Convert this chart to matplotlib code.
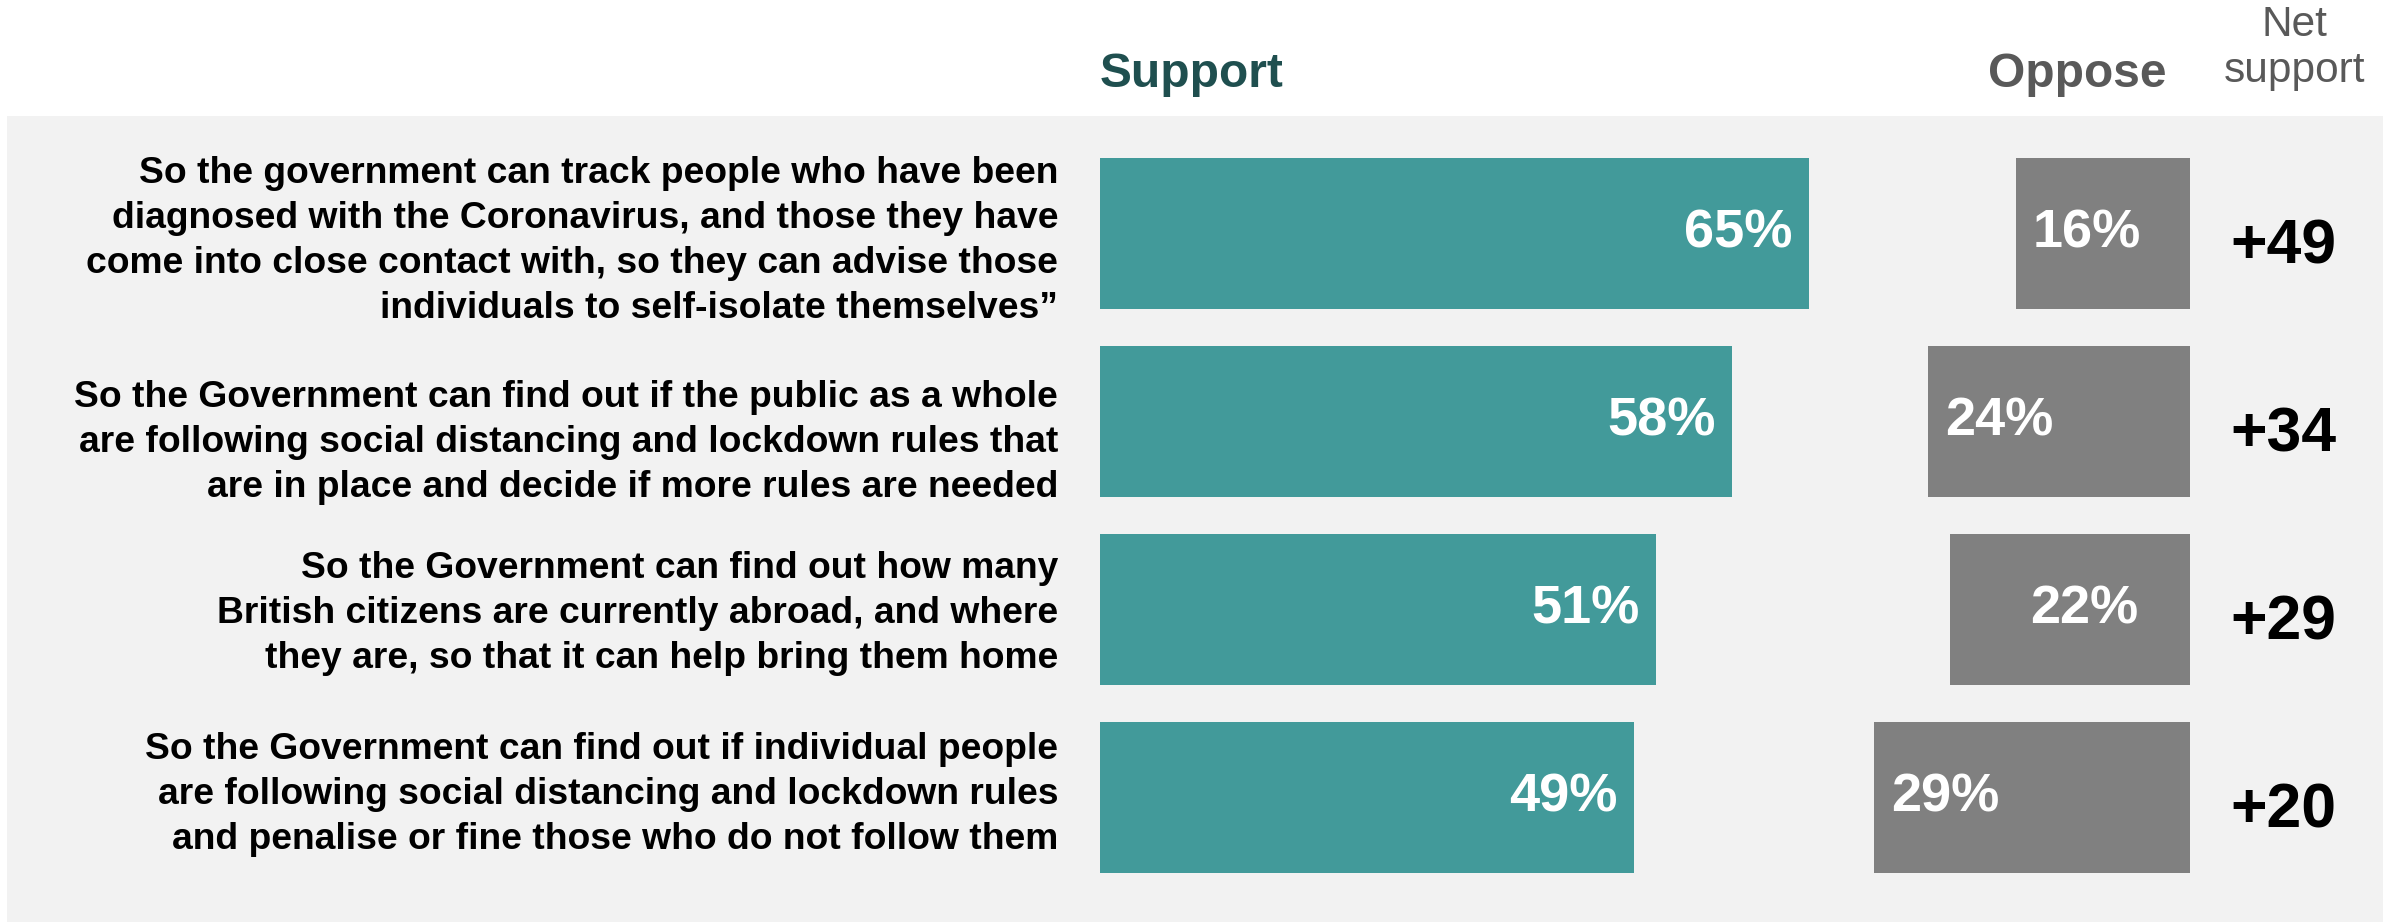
import matplotlib.pyplot as plt
from matplotlib.patches import Rectangle

plt.rcParams['font.family'] = ['Liberation Sans', 'DejaVu Sans']

# Data
questions = [
    'So the government can track people who have been\n'
    'diagnosed with the Coronavirus, and those they have\n'
    'come into close contact with, so they can advise those\n'
    'individuals to self-isolate themselves\u201d',
    'So the Government can find out if the public as a whole\n'
    'are following social distancing and lockdown rules that\n'
    'are in place and decide if more rules are needed',
    'So the Government can find out how many\n'
    'British citizens are currently abroad, and where\n'
    'they are, so that it can help bring them home',
    'So the Government can find out if individual people\n'
    'are following social distancing and lockdown rules\n'
    'and penalise or fine those who do not follow them',
]
support = [65, 58, 51, 49]
oppose = [16, 24, 22, 29]
net = ['+49', '+34', '+29', '+20']

teal = '#429a9a'
grey = '#808080'
panel = '#f2f2f2'

W, H = 2395, 922
fig = plt.figure(figsize=(W / 100, H / 100), dpi=100)

# grey panel behind everything
fig.add_artist(Rectangle((7 / W, 0), (2383 - 7) / W, (H - 116) / H,
                         transform=fig.transFigure, facecolor=panel,
                         edgecolor='none', zorder=-1))

# one axes: 0..100 % spans 1100..2190 px, rows are 188 px apart
ax = fig.add_axes([1100 / W, 0, 1090 / W, 1])
ax.set_xlim(0, 100)
ax.set_ylim((H - 233.5) / 188, -233.5 / 188)
ax.axis('off')

rows = range(len(questions))
ax.barh(rows, support, height=151 / 188, color=teal)
ax.barh(rows, oppose, left=[100 - v for v in oppose], height=151 / 188, color=grey)

# small nudges to match the original text boxes
opp_shift = [0, 0, 5.8, 0]
label_dy = [0.04, 0.11, 0.02, -0.015]

for i in rows:
    ax.text(-3.85, i + label_dy[i], questions[i], ha='right', va='center',
            fontsize=26.8, fontweight='bold', color='black', linespacing=1.37)
    ax.text(support[i] - 1.5, i, f'{support[i]}%', ha='right', va='center',
            fontsize=39, fontweight='bold', color='white')
    ax.text(100 - oppose[i] + 1.55 + opp_shift[i], i, f'{oppose[i]}%', ha='left',
            va='center', fontsize=39, fontweight='bold', color='white')
    ax.text(103.7, i + 0.07, net[i], ha='left', va='center', fontsize=45,
            fontweight='bold', color='black')

# column headers
ax.text(0, -0.845, 'Support', ha='left', va='center', fontsize=34.5,
        fontweight='bold', color='#1f4f4f')
ax.text(97.8, -0.845, 'Oppose', ha='right', va='center', fontsize=34.5,
        fontweight='bold', color='#595959')
ax.text(109.6, -0.985, 'Net\nsupport', ha='center', va='center', fontsize=30.5,
        color='#595959', linespacing=1.2)

fig.savefig('out.png', dpi=100)
